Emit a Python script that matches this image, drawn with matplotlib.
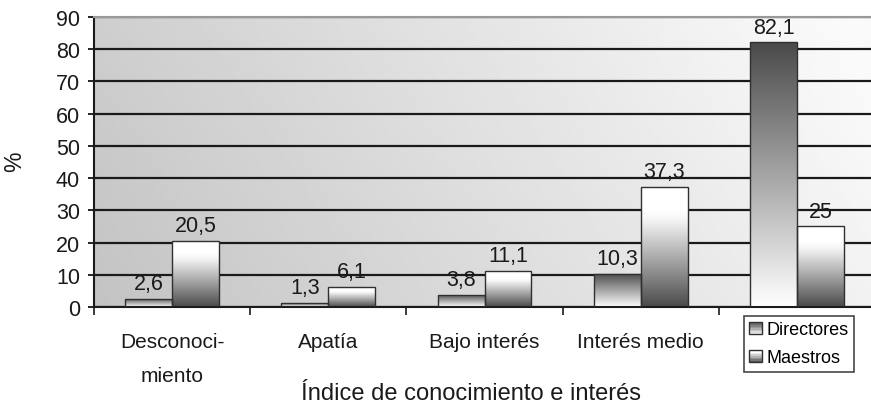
import matplotlib
matplotlib.use("Agg")
import matplotlib.pyplot as plt
import numpy as np
from matplotlib.colors import LinearSegmentedColormap
from matplotlib.patches import Rectangle
from matplotlib.legend_handler import HandlerBase

plt.rcParams['font.family'] = ['Liberation Sans', 'DejaVu Sans']

categories = ["Desconoci-\nmiento", "Apatía", "Bajo interés", "Interés medio", ""]
series_names = ["Directores", "Maestros"]
directores = [2.6, 1.3, 3.8, 10.3, 82.1]
maestros = [20.5, 6.1, 11.1, 37.3, 25]
yticks = [0, 10, 20, 30, 40, 50, 60, 70, 80, 90]

W, H = 871, 406
fig = plt.figure(figsize=(W / 100, H / 100), dpi=100)
ax = fig.add_axes([94 / W, 1 - 308 / H, (875 - 94) / W, (308 - 18) / H])

# background gradient
gx, gy = np.meshgrid(np.linspace(0, 1, 300), np.linspace(0, 1, 100))
bg = 0.765 + 0.215 * np.clip(0.85 * gx + 0.2 * gy, 0, 1)
ax.imshow(bg, cmap='gray', vmin=0, vmax=1, extent=[0, 1, 0, 1], transform=ax.transAxes,
          origin='lower', aspect='auto', zorder=0, interpolation='bilinear')

x = np.arange(len(categories))
w = 0.30

cmap_dir = LinearSegmentedColormap.from_list('d', [(0, '#ffffff'), (1, '#4a4a4a')])
cmap_mae = LinearSegmentedColormap.from_list('m', [(0, '#4a4a4a'), (0.72, '#f4f4f4'), (0.8, '#ffffff'), (1, '#ffffff')])

def grad_bars(xs, vals, cmap, label):
    bars = ax.bar(xs, vals, width=w, color='none', edgecolor='#303030', linewidth=1.0, zorder=3, label=label)
    grad = np.linspace(0, 1, 256).reshape(-1, 1)
    for b in bars:
        x0, y0 = b.get_x(), b.get_y()
        bw, bh = b.get_width(), b.get_height()
        im = ax.imshow(grad, cmap=cmap, extent=[x0, x0 + bw, y0, y0 + bh], origin='lower',
                       aspect='auto', zorder=2.5, interpolation='bilinear')
        im.set_clip_path(b)
    return bars

b1 = grad_bars(x - w / 2, directores, cmap_dir, series_names[0])
b2 = grad_bars(x + w / 2, maestros, cmap_mae, series_names[1])

def fmt(v):
    return ("%g" % v).replace('.', ',')

for xs, vals in ((x - w / 2, directores), (x + w / 2, maestros)):
    for xi, v in zip(xs, vals):
        ax.annotate(fmt(v), (xi, v), xytext=(0, 3.5), textcoords='offset points',
                    ha='center', va='bottom', fontsize=15.5, color='#1a1a1a', zorder=5)

ax.set_xlim(-0.5, len(categories) - 0.5)
ax.set_ylim(0, 90)
ax.set_yticks(yticks)
ax.yaxis.grid(True, color='#1a1a1a', linewidth=1.6, zorder=1)
ax.set_axisbelow(True)
for gl in ax.get_ygridlines():
    gl.set_zorder(1)

ax.set_xticks(x)
ax.set_xticklabels(categories, fontsize=15, linespacing=2.0, color='#1a1a1a')
ax.tick_params(axis='x', which='major', length=0, pad=18)
ax.set_xticks(np.arange(-0.5, len(categories), 1), minor=True)
ax.tick_params(axis='x', which='minor', length=6, width=1.2, color='#1a1a1a', direction='out')
ax.tick_params(axis='y', length=4, width=1.2, pad=6, labelsize=15.5, labelcolor='#1a1a1a')

ax.spines['top'].set_color('#999999')
ax.spines['top'].set_linewidth(1.5)
ax.spines['right'].set_visible(False)
ax.spines['left'].set_color('#1a1a1a')
ax.spines['left'].set_linewidth(1.5)
ax.spines['bottom'].set_color('#1a1a1a')
ax.spines['bottom'].set_linewidth(1.5)

fig.text(15 / W, 1 - 162 / H, "%", rotation=90, ha='center', va='center', fontsize=16.5, color='#1a1a1a')
fig.text(471 / W, 1 - 394 / H, "Índice de conocimiento e interés", ha='center', va='center',
         fontsize=17, color='#1a1a1a')


class GradHandler(HandlerBase):
    def __init__(self, cmap):
        super().__init__()
        self.cmap = cmap

    def create_artists(self, legend, orig_handle, xdescent, ydescent, width, height, fontsize, trans):
        arts = []
        n = 8
        for i in range(n):
            arts.append(Rectangle((-xdescent, -ydescent + height * i / n), width, height / n,
                                  facecolor=self.cmap((i + 0.5) / n), edgecolor='none', transform=trans))
        arts.append(Rectangle((-xdescent, -ydescent), width, height, facecolor='none',
                              edgecolor='#303030', linewidth=1.0, transform=trans))
        return arts


h1 = Rectangle((0, 0), 1, 1)
h2 = Rectangle((0, 0), 1, 1)
leg = fig.legend([h1, h2], series_names, loc='upper left',
                 bbox_to_anchor=(744 / W, 1 - 317 / H), fontsize=13, frameon=True,
                 fancybox=False, edgecolor='#1a1a1a', handlelength=0.7, handleheight=0.7,
                 handletextpad=0.25, borderpad=0.3, borderaxespad=0, labelspacing=0.6,
                 handler_map={h1: GradHandler(cmap_dir), h2: GradHandler(cmap_mae)})
leg.get_frame().set_linewidth(1.2)
leg._legend_box.sep = 2

fig.savefig("out.png", dpi=100)
